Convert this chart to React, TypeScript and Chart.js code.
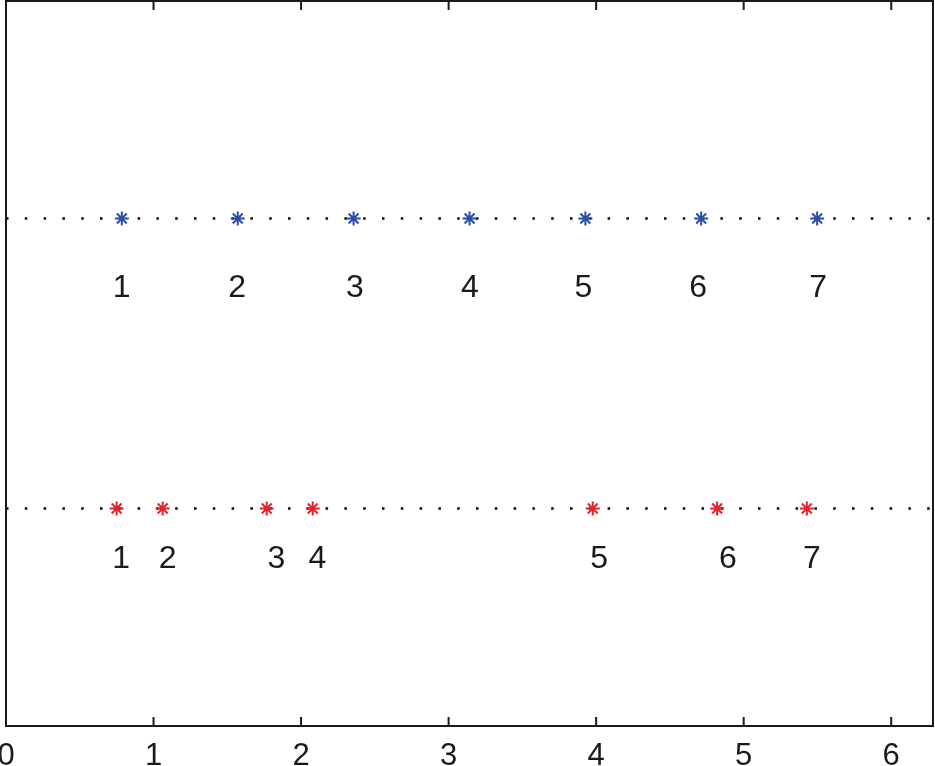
import { useEffect, useRef } from 'react'
import Chart from 'chart.js/auto'

const X_MAX = 2 * Math.PI
const xTicks = [0, 1, 2, 3, 4, 5, 6]

// upper row: evenly spaced points
const blueY = 0.7
const blueX = [0.785, 1.571, 2.356, 3.142, 3.927, 4.712, 5.498]
const blueLabels = ['1', '2', '3', '4', '5', '6', '7']
const blueLabelX = [0.784, 1.567, 2.364, 3.145, 3.913, 4.691, 5.505]
const blueLabelY = 0.592

// lower row: uneven points
const redY = 0.3
const redX = [0.75, 1.062, 1.767, 2.079, 3.977, 4.82, 5.428]
const redLabels = ['1', '2', '3', '4', '5', '6', '7']
const redLabelX = [0.78, 1.096, 1.832, 2.11, 4.02, 4.893, 5.463]
const redLabelY = 0.218

const BLUE = '#2b4ea8'
const RED = '#e8212b'
const INK = '#1a1a1a'
const FONT = '"Liberation Sans", Helvetica, Arial, sans-serif'

// box, inward ticks (top and bottom), tick labels and point labels
const framePlugin = {
  id: 'frame',
  afterDraw(chart: Chart) {
    const { ctx, chartArea: a, scales } = chart
    const x = scales.x
    const y = scales.y
    ctx.save()
    ctx.strokeStyle = INK
    ctx.lineWidth = 2
    ctx.strokeRect(a.left, a.top, a.right - a.left, a.bottom - a.top)
    ctx.beginPath()
    xTicks.forEach((v) => {
      if (v <= 0 || v >= X_MAX) return
      const px = x.getPixelForValue(v)
      ctx.moveTo(px, a.bottom)
      ctx.lineTo(px, a.bottom - 9)
      ctx.moveTo(px, a.top)
      ctx.lineTo(px, a.top + 9)
    })
    ctx.stroke()

    ctx.fillStyle = INK
    ctx.textAlign = 'center'
    ctx.textBaseline = 'alphabetic'
    ctx.font = `31px ${FONT}`
    xTicks.forEach((v) => {
      ctx.fillText(String(v), x.getPixelForValue(v), a.bottom + 39)
    })

    ctx.font = `32px ${FONT}`
    blueLabels.forEach((t, i) => {
      ctx.fillText(t, x.getPixelForValue(blueLabelX[i]), y.getPixelForValue(blueLabelY))
    })
    redLabels.forEach((t, i) => {
      ctx.fillText(t, x.getPixelForValue(redLabelX[i]), y.getPixelForValue(redLabelY))
    })
    ctx.restore()
  },
}

function RowChart() {
  const canvasRef = useRef<HTMLCanvasElement>(null)
  const chartRef = useRef<Chart | null>(null)

  useEffect(() => {
    if (!canvasRef.current) return
    if (chartRef.current) chartRef.current.destroy()

    const dotted = (yv: number) => ({
      data: [{ x: 0, y: yv }, { x: X_MAX, y: yv }],
      showLine: true,
      borderColor: '#000',
      borderWidth: 2.5,
      borderDash: [2.5, 16.3],
      borderCapStyle: 'butt',
      pointRadius: 0,
      order: 2,
    })
    const stars = (xs: number[], yv: number, color: string) => ({
      data: xs.map((v) => ({ x: v, y: yv })),
      showLine: false,
      pointStyle: 'star',
      pointRadius: 7,
      borderColor: color,
      backgroundColor: color,
      pointBorderWidth: 2,
      order: 1,
    })

    chartRef.current = new Chart(canvasRef.current, {
      type: 'scatter',
      data: {
        datasets: [
          dotted(blueY),
          dotted(redY),
          stars(blueX, blueY, BLUE),
          stars(redX, redY, RED),
        ] as any,
      },
      options: {
        animation: false,
        responsive: true,
        maintainAspectRatio: false,
        layout: { autoPadding: false, padding: { left: 6, right: 2, top: 1, bottom: 40 } },
        plugins: { legend: { display: false }, tooltip: { enabled: false } },
        scales: {
          x: {
            type: 'linear',
            min: 0,
            max: X_MAX,
            grid: { display: false, drawTicks: false },
            border: { display: false },
            ticks: { display: false },
          },
          y: { type: 'linear', min: 0, max: 1, display: false },
        },
      },
      plugins: [framePlugin],
    })

    return () => { chartRef.current?.destroy() }
  }, [])

  return (
    <div style={{ position: 'fixed', left: 0, top: 0, width: 935, height: 766, background: '#fff' }}>
      <canvas ref={canvasRef} />
    </div>
  )
}

export default function App() {
  return <RowChart />
}
